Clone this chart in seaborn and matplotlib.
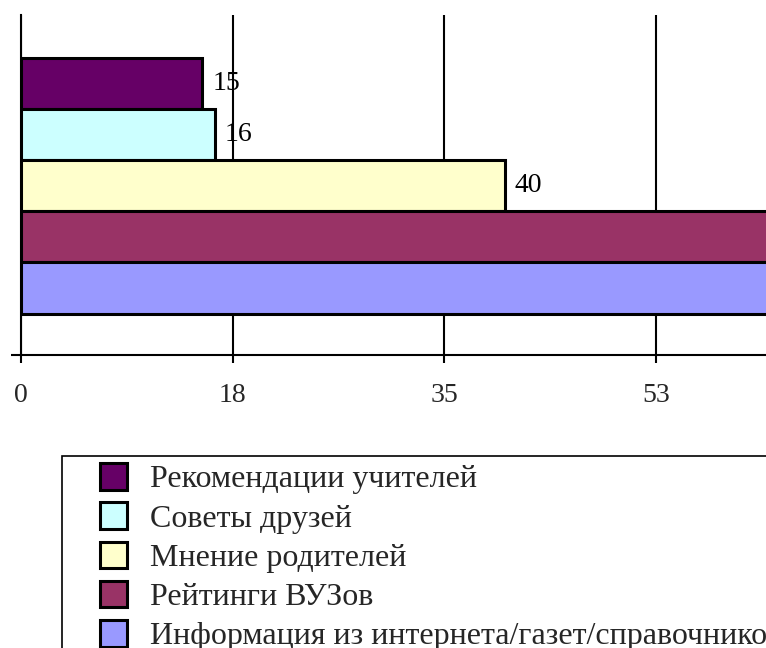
import matplotlib
matplotlib.use("Agg")
import matplotlib.pyplot as plt
import seaborn as sns
import pandas as pd
from matplotlib.patches import Patch, Rectangle

sources = [
    "Рекомендации учителей",
    "Советы друзей",
    "Мнение родителей",
    "Рейтинги ВУЗов",
    "Информация из интернета/газет/справочников",
]
values = [15, 16, 40, 66, 68]
colors = ["#660066", "#CCFFFF", "#FFFFCC", "#993366", "#9999FF"]
tick_values = [0, 17.5, 35, 52.5]
tick_labels = ["0", "18", "35", "53"]
shown_labels = ["15", "16", "40", "", ""]

sns.set_theme(style="white")
plt.rcParams["font.family"] = ["Liberation Serif", "DejaVu Serif"]

W, H = 766, 648
fig = plt.figure(figsize=(W / 100, H / 100), dpi=100)
ax = fig.add_axes([21 / W, (H - 355) / H, (W - 21) / W, 340 / H])

df = pd.DataFrame({"source": sources, "value": values})
sns.barplot(data=df, x="value", y="source", hue="source", palette=colors,
            saturation=1, dodge=False, width=1.0, orient="h",
            edgecolor="black", linewidth=2.2, legend=False, ax=ax, zorder=3)

ax.set_xticks(tick_values)
ax.set_xticklabels(tick_labels, fontsize=20)
ax.set_yticks([5.31])
ax.set_yticklabels([""])
ax.set_xlim(0, 61.6)
ax.set_ylim(5.31, -1.33)
ax.set_xlabel("")
ax.set_ylabel("")
ax.grid(axis="x", color="black", linewidth=1.5, zorder=1)
ax.grid(axis="y", visible=False)
for s in ["top", "right"]:
    ax.spines[s].set_visible(False)
for s in ["left", "bottom"]:
    ax.spines[s].set_color("black")
    ax.spines[s].set_linewidth(1.5)
ax.tick_params(axis="x", direction="out", length=6, width=1.5, color="black",
               pad=14, bottom=True)
ax.tick_params(axis="y", direction="out", length=7, width=1.5, color="black",
               left=True)

for cont, lab in zip(ax.containers, shown_labels):
    ax.bar_label(cont, labels=[lab], padding=7, fontsize=20, color="black")

handles = [Patch(facecolor=c, edgecolor="black", linewidth=2.2) for c in colors]
fig.legend(handles, sources, loc="upper left",
           bbox_to_anchor=(100 / W, (H - 463) / H), frameon=False,
           fontsize=23, handlelength=0.85, handleheight=0.9,
           handletextpad=0.72, labelspacing=0.25, borderpad=0,
           borderaxespad=0)
fig.add_artist(Rectangle((62 / W, -0.2), 1.2, 0.2 + (H - 456) / H,
                         transform=fig.transFigure, fill=False,
                         edgecolor="black", linewidth=1.2))

fig.savefig("out.png", dpi=100)
